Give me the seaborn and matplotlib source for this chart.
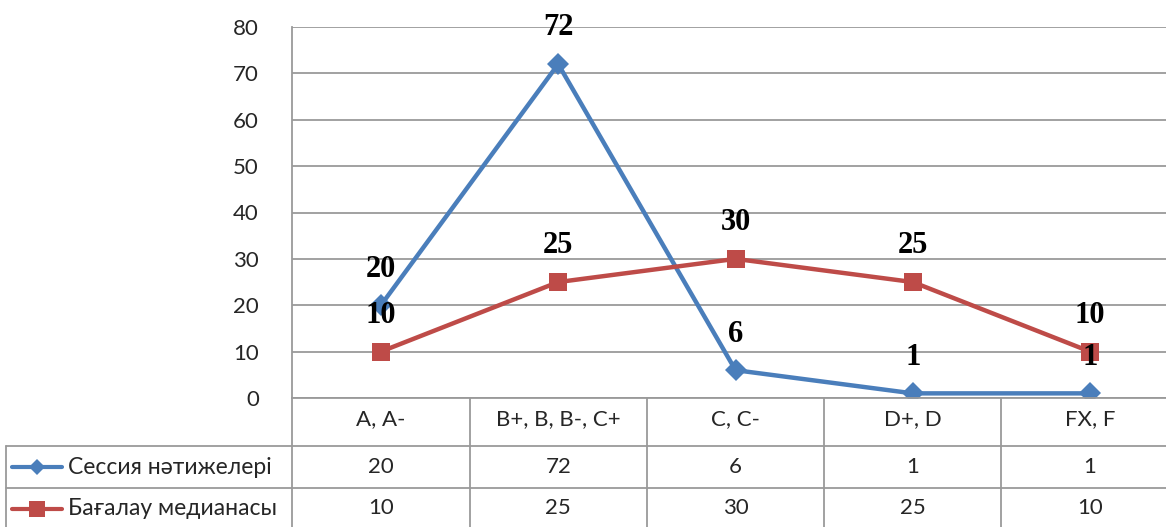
import numpy as np
import pandas as pd
import seaborn as sns
import matplotlib.pyplot as plt
from matplotlib.lines import Line2D

categories = ["A, A-", "B+, B, B-, C+", "C, C-", "D+, D", "FX, F"]
session = [20, 72, 6, 1, 1]
median = [10, 25, 30, 25, 10]
series_names = ["Сессия нәтижелері", "Бағалау медианасы"]
y_ticks = [0, 10, 20, 30, 40, 50, 60, 70, 80]

BLUE = "#4A7EBB"
RED = "#BE4B48"
GRID = "#9A9A9A"
TXT = "#262626"

sns.set_style("white")
plt.rcParams['font.family'] = ['Lato', 'DejaVu Sans']

W, H = 1166, 527
fig = plt.figure(figsize=(W / 100, H / 100), dpi=100)

x0, x1 = 292.25, 1178.75          # plot area in pixels
y_top, y_bot = 27, 398
ax = fig.add_axes([x0 / W, (H - y_bot) / H, (x1 - x0) / W, (y_bot - y_top) / H])

df = pd.DataFrame({
    "x": list(range(len(categories))) * 2,
    "val": session + median,
    "series": [series_names[0]] * len(session) + [series_names[1]] * len(median),
})

sns.lineplot(data=df, x="x", y="val", hue="series", style="series",
             palette={series_names[0]: BLUE, series_names[1]: RED},
             markers={series_names[0]: "D", series_names[1]: "s"},
             dashes=False, linewidth=3.2, markersize=11.5, markeredgewidth=0,
             legend=False, ax=ax, zorder=3)
# bigger square for second series
for ln in ax.lines:
    if ln.get_marker() == "s":
        ln.set_markersize(13)

# data labels
for vals in (session, median):
    for i, v in enumerate(vals):
        ax.annotate(str(v), (i, v), xytext=(0, 26), textcoords="offset points",
                    ha="center", va="center", fontsize=22, fontweight="bold",
                    family="Liberation Serif", color="black", zorder=5)

ax.set_xlim(-0.5, len(categories) - 0.5)
ax.set_ylim(0, 80)
ax.set_yticks(y_ticks)
ax.set_yticklabels([str(t) for t in y_ticks], fontsize=16, color=TXT)
ax.tick_params(axis="y", length=0, pad=24)
ax.set_xticks([])
ax.set_xlabel("")
ax.set_ylabel("")
ax.yaxis.grid(True, color=GRID, linewidth=1.3)
ax.set_axisbelow(True)
for s in ("top", "right", "bottom"):
    ax.spines[s].set_visible(False)
ax.spines["left"].set_color(GRID)
ax.spines["left"].set_linewidth(1.3)

# data table below the plot
tab = fig.add_axes([x0 / W, 0, (x1 - x0) / W, (H - y_bot) / H])
tab.set_xlim(-0.5, len(categories) - 0.5)
tab.set_ylim(0, H - y_bot)
tab.axis("off")
px = (len(categories)) / (x1 - x0)      # data units per pixel
left_edge = -0.5 - (x0 - 6) * px
row1, row2 = H - 446, H - 488
lkw = dict(color=GRID, linewidth=1.3, clip_on=False)
tab.plot([-0.5, len(categories) - 0.5], [H - y_bot] * 2, **lkw)
tab.plot([left_edge, len(categories) - 0.5], [row1, row1], **lkw)
tab.plot([left_edge, len(categories) - 0.5], [row2, row2], **lkw)
tab.plot([left_edge, left_edge], [-2, row1], **lkw)
for i in range(len(categories) + 1):
    tab.plot([i - 0.5, i - 0.5], [-2, H - y_bot], **lkw)

hdr_y = (H - y_bot + row1) / 2 + 3
r1_y = (row1 + row2) / 2
r2_y = row2 / 2 - 1
for i, c in enumerate(categories):
    tab.text(i, hdr_y, c, ha="center", va="center", fontsize=16, color=TXT)
    tab.text(i, r1_y, str(session[i]), ha="center", va="center", fontsize=16, color=TXT)
    tab.text(i, r2_y, str(median[i]), ha="center", va="center", fontsize=16, color=TXT)

# legend keys inside the table
for ry, col, mk, ms, name in ((r1_y, BLUE, "D", 8.5, series_names[0]),
                              (r2_y, RED, "s", 11, series_names[1])):
    xa = -0.5 - (x0 - 12) * px
    xb = -0.5 - (x0 - 62) * px
    tab.add_line(Line2D([xa, xb], [ry, ry], color=col, linewidth=3, clip_on=False))
    tab.add_line(Line2D([(xa + xb) / 2], [ry], color=col, marker=mk, markersize=ms,
                        markeredgewidth=0, clip_on=False))
    tab.text(-0.5 - (x0 - 68) * px, ry, name, ha="left", va="center",
             fontsize=16.5, color=TXT, clip_on=False)

fig.savefig("out.png", dpi=100)
